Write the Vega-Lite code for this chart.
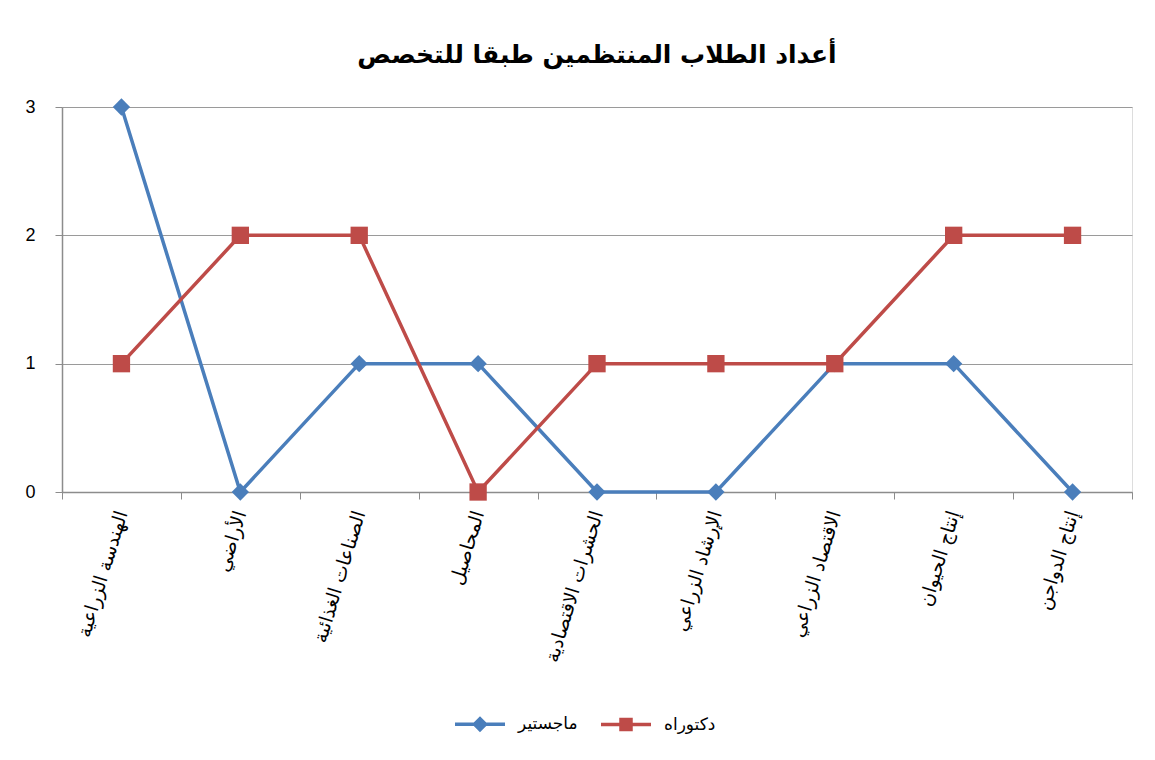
{
  "$schema": "https://vega.github.io/schema/vega-lite/v6.json",
  "width": 1070,
  "height": 385,
  "autosize": {"type": "none"},
  "padding": {"left": 62, "top": 107, "right": 23, "bottom": 268},
  "background": "white",
  "title": {
    "text": "أعداد الطلاب المنتظمين طبقا للتخصص",
    "anchor": "middle",
    "font": "DejaVu Sans",
    "fontSize": 25,
    "fontWeight": "bold",
    "color": "#000000",
    "offset": 30
  },
  "data": {
    "values": [
      {"spec": "الهندسة الزراعية", "degree": "ماجستير", "count": 3},
      {"spec": "الأراضي", "degree": "ماجستير", "count": 0},
      {"spec": "الصناعات الغذائية", "degree": "ماجستير", "count": 1},
      {"spec": "المحاصيل", "degree": "ماجستير", "count": 1},
      {"spec": "الحشرات الاقتصادية", "degree": "ماجستير", "count": 0},
      {"spec": "الإرشاد الزراعي", "degree": "ماجستير", "count": 0},
      {"spec": "الاقتصاد الزراعي", "degree": "ماجستير", "count": 1},
      {"spec": "إنتاج الحيوان", "degree": "ماجستير", "count": 1},
      {"spec": "إنتاج الدواجن", "degree": "ماجستير", "count": 0},
      {"spec": "الهندسة الزراعية", "degree": "دكتوراه", "count": 1},
      {"spec": "الأراضي", "degree": "دكتوراه", "count": 2},
      {"spec": "الصناعات الغذائية", "degree": "دكتوراه", "count": 2},
      {"spec": "المحاصيل", "degree": "دكتوراه", "count": 0},
      {"spec": "الحشرات الاقتصادية", "degree": "دكتوراه", "count": 1},
      {"spec": "الإرشاد الزراعي", "degree": "دكتوراه", "count": 1},
      {"spec": "الاقتصاد الزراعي", "degree": "دكتوراه", "count": 1},
      {"spec": "إنتاج الحيوان", "degree": "دكتوراه", "count": 2},
      {"spec": "إنتاج الدواجن", "degree": "دكتوراه", "count": 2}
    ]
  },
  "encoding": {
    "x": {
      "field": "spec",
      "type": "nominal",
      "sort": ["الهندسة الزراعية", "الأراضي", "الصناعات الغذائية", "المحاصيل", "الحشرات الاقتصادية", "الإرشاد الزراعي", "الاقتصاد الزراعي", "إنتاج الحيوان", "إنتاج الدواجن"],
      "scale": {"type": "band", "paddingInner": 0, "paddingOuter": 0},
      "axis": {
        "title": null,
        "labelAngle": -73,
        "labelAlign": "right",
        "labelBaseline": "middle",
        "labelFont": "DejaVu Sans",
        "labelFontSize": 19,
        "labelColor": "#000000",
        "labelPadding": 12,
        "labelLimit": 0,
        "tickBand": "extent",
        "tickSize": 7,
        "tickColor": "#8c8c8c",
        "domainColor": "#8c8c8c",
        "domainWidth": 1.5,
        "grid": false
      }
    },
    "y": {
      "field": "count",
      "type": "quantitative",
      "scale": {"domain": [0, 3], "nice": false},
      "axis": {
        "title": null,
        "values": [0, 1, 2, 3],
        "format": "d",
        "labelFont": "Liberation Sans",
        "labelFontSize": 18,
        "labelColor": "#000000",
        "labelPadding": 20,
        "tickSize": 7,
        "tickColor": "#8c8c8c",
        "domainColor": "#8c8c8c",
        "domainWidth": 1.5,
        "grid": true,
        "gridColor": "#9a9a9a",
        "gridWidth": 1.2
      }
    },
    "color": {
      "field": "degree",
      "type": "nominal",
      "scale": {"domain": ["ماجستير", "دكتوراه"], "range": ["#4A7EBB", "#BE4B48"]},
      "legend": {
        "title": null,
        "orient": "none",
        "direction": "horizontal",
        "legendX": 406,
        "legendY": 605,
        "labelFont": "DejaVu Sans",
        "labelFontSize": 17,
        "labelColor": "#000000",
        "symbolSize": 400,
        "labelOffset": 26,
        "columnPadding": 16,
        "symbolStrokeWidth": 3.5,
        "encode": {
          "symbols": {
            "update": {
              "shape": {"signal": "datum.value === 'ماجستير' ? 'M-2.5,0L2.5,0M0,-0.55L0.55,0L0,0.55L-0.55,0Z' : 'M-2.5,0L2.5,0M-0.5,-0.5L0.5,-0.5L0.5,0.5L-0.5,0.5Z'"},
              "fill": {"signal": "datum.value === 'ماجستير' ? '#4A7EBB' : '#BE4B48'"},
              "stroke": {"signal": "datum.value === 'ماجستير' ? '#4A7EBB' : '#BE4B48'"},
              "strokeWidth": {"value": 3.5},
              "opacity": {"value": 1}
            }
          }
        }
      }
    }
  },
  "layer": [
    {
      "transform": [{"filter": "datum.degree === 'ماجستير'"}],
      "mark": {"type": "line", "strokeWidth": 3.5}
    },
    {
      "transform": [{"filter": "datum.degree === 'ماجستير'"}],
      "mark": {"type": "point", "shape": "diamond", "filled": true, "size": 300, "opacity": 1}
    },
    {
      "transform": [{"filter": "datum.degree === 'دكتوراه'"}],
      "mark": {"type": "line", "strokeWidth": 3.5}
    },
    {
      "transform": [{"filter": "datum.degree === 'دكتوراه'"}],
      "mark": {"type": "point", "shape": "square", "filled": true, "size": 300, "opacity": 1}
    }
  ]
}
